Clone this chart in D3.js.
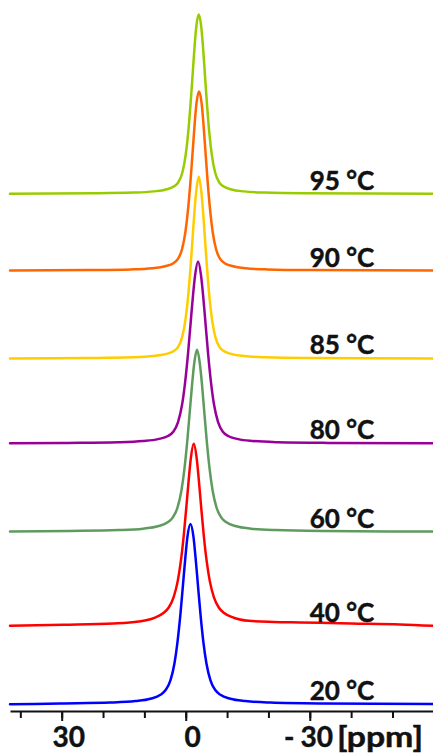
<!DOCTYPE html>
<html>
<head>
<meta charset="utf-8">
<script src="https://cdn.jsdelivr.net/npm/d3@7"></script>
<style>
  html, body { margin: 0; padding: 0; background: #fff; }
  svg { display: block; font-family: Lato, "Open Sans", sans-serif; font-weight: bold; }
  text { stroke: #111; stroke-width: 0.45px; }
</style>
</head>
<body>
<svg id="chart" width="433" height="755"></svg>
<script>
// Stacked 1D NMR spectra recorded at increasing temperature.
// Each spectrum: [chemical shift (ppm), normalised intensity] pairs, high ppm to low.
const temperatures = ["20 °C", "40 °C", "60 °C", "80 °C", "85 °C", "90 °C", "95 °C"];
const colors = ["#0000ff", "#ff0000", "#5f9b5f", "#990099", "#ffcc00", "#ff6600", "#99cc00"];
// vertical stacking offset of each trace, intensity units
const offsets = [3.9, 47.5, 99.7, 148.7, 195.9, 244.7, 287.4];

const spec20 = [[42.5,-0.2],[30.32,0.3],[18.22,0.8],[12.17,1.6],[8.54,2.9],[6.12,5.1],[4.91,7.6],[3.70,13.1],[2.73,22.5],[2.01,34.1],[1.28,50],[0.68,65.8],[0.07,82],[-0.41,92.8],[-1.14,100],[-1.87,92.8],[-2.35,82],[-2.96,65.8],[-3.56,50],[-4.28,34.1],[-5.01,22.5],[-5.98,13.1],[-7.19,7.6],[-8.40,5.1],[-10.82,2.9],[-14.45,1.6],[-20.50,0.8],[-32.60,0.3],[-60,0]];
const spec40 = [[42.5,-0.1],[29.52,0.4],[17.42,1.1],[11.37,2.2],[7.74,4.1],[5.32,7.1],[4.11,10],[2.90,15.9],[1.93,24.8],[1.21,35.3],[0.48,50],[-0.12,65.1],[-0.73,81.2],[-1.21,92.4],[-1.94,101],[-2.67,92.4],[-3.15,81.2],[-3.76,65.1],[-4.36,50],[-5.09,35.3],[-5.81,24.8],[-6.78,15.9],[-7.99,10],[-9.20,7.1],[-11.62,4.3],[-15.25,2.6],[-21.30,2.0],[-27.6,1.7],[-40,1.1],[-51.8,0.6],[-60,-0.2]];
const spec60 = [[42.5,0],[28.08,0.3],[16.23,0.8],[10.31,1.6],[6.75,2.9],[4.38,5.1],[3.20,7.6],[2.01,13.1],[1.06,22.5],[0.35,34.1],[-0.36,50],[-0.95,65.8],[-1.55,82],[-2.02,92.8],[-2.73,101],[-3.44,92.8],[-3.92,82],[-4.51,65.8],[-5.10,50],[-5.81,34.1],[-6.52,22.5],[-7.47,13.1],[-8.66,7.6],[-9.84,5.1],[-12.21,2.9],[-15.77,1.6],[-21.69,0.8],[-33.54,0.3],[-60,0]];
const spec80 = [[42.5,0],[28.48,0.24],[16.38,0.62],[10.33,1.28],[6.70,2.35],[4.28,4.1],[3.07,6.3],[1.86,11.8],[0.89,21.4],[0.17,33.5],[-0.56,50],[-1.16,66.2],[-1.77,82.5],[-2.25,93],[-2.98,101],[-3.71,93],[-4.19,82.5],[-4.80,66.2],[-5.40,50],[-6.13,33.5],[-6.85,21.4],[-7.82,11.8],[-9.03,6.3],[-10.24,4.1],[-12.66,2.35],[-16.29,1.28],[-22.34,0.62],[-34.44,0.24],[-60,0]];
const spec85 = [[42.5,0],[22.98,0.24],[12.93,0.62],[7.91,1.28],[4.89,2.35],[2.88,4.1],[1.88,6.3],[0.87,11.8],[0.07,21.4],[-0.54,33.5],[-1.14,50],[-1.64,66.2],[-2.14,82.5],[-2.55,93],[-3.15,101],[-3.75,93],[-4.16,82.5],[-4.66,66.2],[-5.16,50],[-5.76,33.5],[-6.37,21.4],[-7.17,11.8],[-8.18,6.3],[-9.18,4.1],[-11.19,2.35],[-14.21,1.28],[-19.23,0.62],[-29.28,0.24],[-60,0]];
const spec90 = [[42.5,0],[23.56,0.24],[13.26,0.62],[8.11,1.28],[5.02,2.35],[2.96,4.1],[1.93,6.3],[0.90,11.8],[0.08,21.4],[-0.54,33.5],[-1.16,50],[-1.68,66.2],[-2.19,82.5],[-2.60,93],[-3.22,99.5],[-3.84,93],[-4.25,82.5],[-4.77,66.2],[-5.28,50],[-5.90,33.5],[-6.52,21.4],[-7.34,11.8],[-8.37,6.3],[-9.40,4.1],[-11.46,2.35],[-14.55,1.28],[-19.70,0.62],[-30.00,0.24],[-60,0]];
const spec95 = [[42.5,0],[22.59,0.24],[12.69,0.62],[7.74,1.28],[4.77,2.35],[2.79,4.1],[1.80,6.3],[0.81,11.8],[0.02,21.4],[-0.58,33.5],[-1.17,50],[-1.67,66.2],[-2.16,82.5],[-2.56,93],[-3.15,99.5],[-3.74,93],[-4.14,82.5],[-4.64,66.2],[-5.13,50],[-5.72,33.5],[-6.32,21.4],[-7.11,11.8],[-8.10,6.3],[-9.09,4.1],[-11.07,2.35],[-14.04,1.28],[-18.99,0.62],[-28.89,0.24],[-60,0]];
const spectra = [spec20, spec40, spec60, spec80, spec85, spec90, spec95];

// axis ticks (ppm)
const tickValues = [40, 30, 20, 10, 0, -10, -20, -30, -40, -50];
const labelledTicks = [30, 0, -30];
const axisUnit = "[ppm]";

const svg = d3.select("#chart");
const x = d3.scaleLinear().domain([42.5, -59.8]).range([10, 433]);
const y = d3.scaleLinear().domain([0, 400]).range([711, -9]);

// traces: highest temperature first so lower traces sit on top
const traces = svg.append("g").attr("fill", "none").attr("stroke-width", 2.5)
  .attr("stroke-linejoin", "round").attr("stroke-linecap", "round");
d3.range(spectra.length).reverse().forEach(i => {
  const off = offsets[i];
  const line = d3.line()
    .x(d => x(d[0]))
    .y(d => y(d[1] + off))
    .curve(d3.curveMonotoneX);
  traces.append("path").datum(spectra[i]).attr("stroke", colors[i]).attr("d", line);
});

// temperature labels above each trace's baseline, right-hand side
svg.append("g").selectAll("text").data(temperatures).join("text")
  .attr("x", x(-30))
  .attr("y", (d, i) => y(offsets[i]) - 4)
  .attr("font-size", 26)
  .attr("fill", "#111")
  .text(d => d);

// ppm axis
const axisY = y(0);
const minor = svg.append("g").attr("transform", `translate(0,${axisY})`)
  .call(d3.axisBottom(x).tickValues(tickValues).tickSize(7).tickSizeOuter(0).tickFormat(""));
minor.select(".domain").attr("stroke", "#111").attr("stroke-width", 2.2);
minor.selectAll(".tick line").attr("stroke", "#111").attr("stroke-width", 2);

const major = svg.append("g").attr("transform", `translate(0,${axisY})`)
  .call(d3.axisBottom(x).tickValues(labelledTicks).tickSize(10).tickSizeOuter(0).tickFormat(""));
major.select(".domain").remove();
major.selectAll(".tick line").attr("stroke", "#111").attr("stroke-width", 2);

const labels = svg.append("g").attr("font-size", 28).attr("fill", "#111");
let lastLabel = null;
labelledTicks.forEach(v => {
  const t = labels.append("text")
    .attr("x", x(v) + 7).attr("y", axisY + 36)
    .attr("text-anchor", "middle")
    .text(Math.abs(v));
  if (v < 0) {
    const bb = t.node().getBBox();
    labels.append("text")
      .attr("x", bb.x - 6).attr("y", axisY + 36)
      .attr("text-anchor", "end")
      .text("-");
  }
  lastLabel = t;
});
const lb = lastLabel.node().getBBox();
labels.append("text")
  .attr("x", lb.x + lb.width + 4).attr("y", axisY + 36)
  .attr("textLength", 86).attr("lengthAdjust", "spacingAndGlyphs")
  .text(axisUnit);
</script>
</body>
</html>
